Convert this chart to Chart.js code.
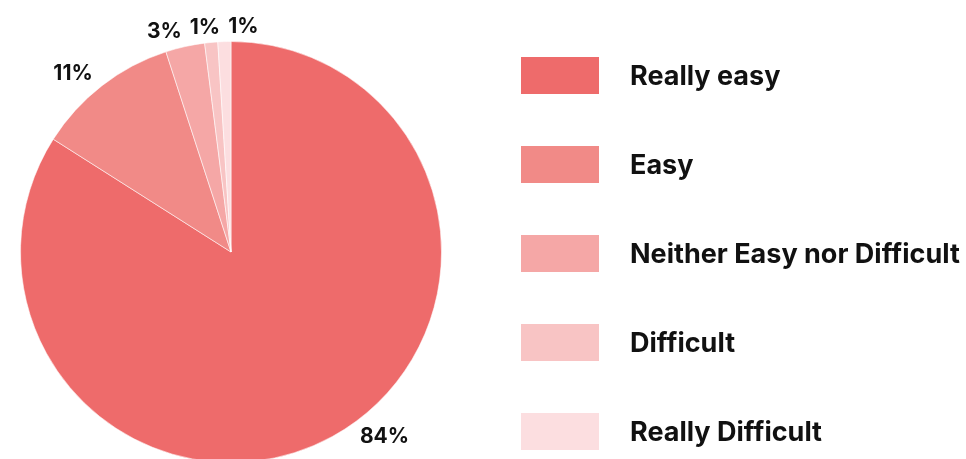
<!DOCTYPE html>
<html>
<head>
<meta charset="utf-8">
<script src="https://cdn.jsdelivr.net/npm/chart.js@4"></script>
<style>
  html, body { margin: 0; padding: 0; background: #ffffff; }
  #wrap { width: 966px; height: 459px; overflow: hidden; position: relative; }
  canvas { display: block; }
</style>
</head>
<body>
<div id="wrap"><canvas id="pie" width="966" height="480"></canvas></div>
<script>
// Survey answers: how easy was it?
const categories = ['Really easy', 'Easy', 'Neither Easy nor Difficult', 'Difficult', 'Really Difficult'];
const shares = [84, 11, 3, 1, 1];
const sliceColors = ['#ee6b6b', '#f18a87', '#f5a7a6', '#f8c4c4', '#fcdee0'];

const TEXT_COLOR = '#111111';
const FONT_FAMILY = 'Inter, "Noto Sans", sans-serif';

// Percentage labels placed just outside each slice, kept inside the visible area
const outsideLabels = {
  id: 'outsideLabels',
  afterDatasetsDraw(chart, args, opts) {
    const ctx = chart.ctx;
    const meta = chart.getDatasetMeta(0);
    const values = chart.data.datasets[0].data;
    const maxY = opts.maxY;
    ctx.save();
    ctx.font = `700 ${opts.size}px ${FONT_FAMILY}`;
    ctx.fillStyle = TEXT_COLOR;
    ctx.textBaseline = 'middle';
    const placed = [];
    meta.data.forEach((arc, i) => {
      const p = arc.getProps(['x', 'y', 'startAngle', 'endAngle', 'outerRadius'], true);
      const mid = (p.startAngle + p.endAngle) / 2;
      const r = p.outerRadius + opts.offset;
      let x = p.x + Math.cos(mid) * r;
      let y = p.y + Math.sin(mid) * r;
      if (y > maxY) {
        y = maxY;
        const dy = y - p.y;
        const dx = Math.sqrt(Math.max(r * r - dy * dy, 0));
        x = p.x + (Math.cos(mid) >= 0 ? dx : -dx);
      }
      const text = values[i] + '%';
      const w = ctx.measureText(text).width;
      const h = opts.size;
      let left = Math.cos(mid) >= 0 ? x : x - w;
      // nudge sideways when a neighbour label is already there
      placed.forEach(b => {
        const overlap = left < b.right && left + w > b.left && y - h / 2 < b.bottom && y + h / 2 > b.top;
        if (overlap) left = b.right + opts.gap;
      });
      ctx.textAlign = 'left';
      ctx.fillText(text, left, y);
      placed.push({ left, right: left + w, top: y - h / 2, bottom: y + h / 2 });
    });
    ctx.restore();
  }
};

// Legend column to the right of the pie
const sideLegend = {
  id: 'sideLegend',
  afterDraw(chart, args, opts) {
    const ctx = chart.ctx;
    const ds = chart.data.datasets[0];
    ctx.save();
    ctx.font = `700 ${opts.size}px ${FONT_FAMILY}`;
    ctx.textBaseline = 'middle';
    ctx.textAlign = 'left';
    chart.data.labels.forEach((label, i) => {
      const top = opts.top + i * opts.step;
      ctx.fillStyle = ds.backgroundColor[i];
      ctx.fillRect(opts.left, top, opts.boxWidth, opts.boxHeight);
      ctx.fillStyle = TEXT_COLOR;
      ctx.fillText(label, opts.textLeft, top + opts.boxHeight / 2 + 1);
    });
    ctx.restore();
  }
};

new Chart(document.getElementById('pie'), {
  type: 'pie',
  data: {
    labels: categories,
    datasets: [{
      data: shares,
      backgroundColor: sliceColors,
      borderColor: 'rgba(255,255,255,0.55)',
      borderWidth: 1
    }]
  },
  options: {
    responsive: false,
    animation: false,
    devicePixelRatio: 1,
    layout: { padding: { left: 20, top: 41, right: 524, bottom: 17 } },
    plugins: {
      legend: { display: false },
      tooltip: { enabled: false },
      outsideLabels: { size: 21, offset: 15, maxY: 437, gap: 8 },
      sideLegend: { left: 521, top: 57, step: 89, boxWidth: 78, boxHeight: 37, textLeft: 630, size: 27 }
    }
  },
  plugins: [outsideLabels, sideLegend]
});
</script>
</body>
</html>
